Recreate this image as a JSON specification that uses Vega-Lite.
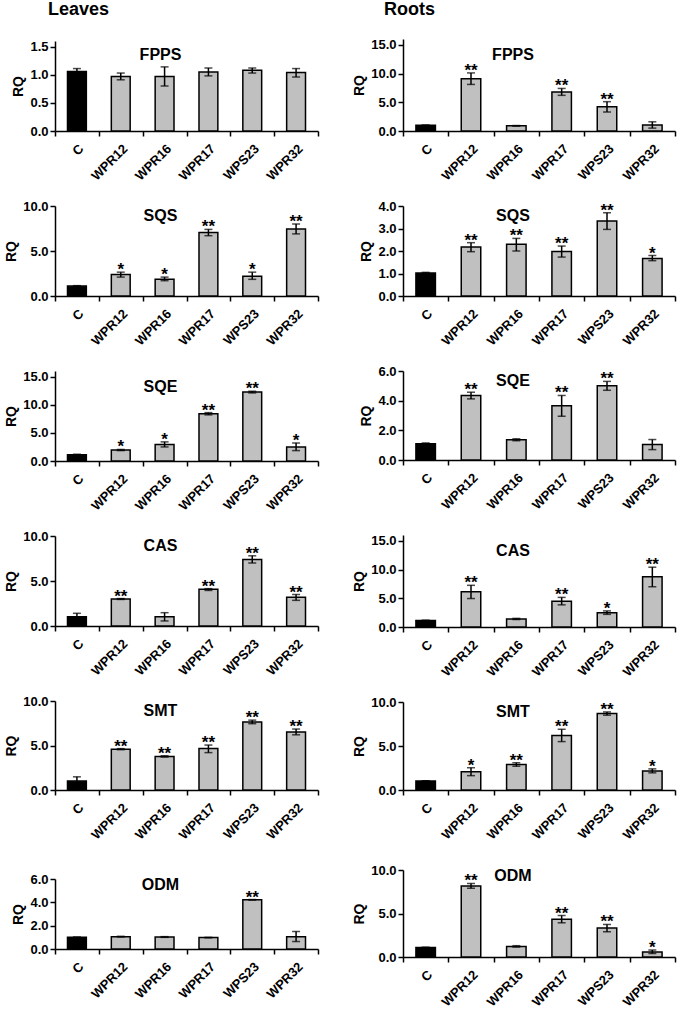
{
"$schema":"https://vega.github.io/schema/vega-lite/v6.json",
"padding":{"left":4,"right":5,"top":0,"bottom":5},
"data":{"values":[
{"t":"L","g":"FPPS","line":"C","rq":1.06,"lo":1.01,"hi":1.11,"sig":""},
{"t":"L","g":"FPPS","line":"WPR12","rq":0.97,"lo":0.91,"hi":1.03,"sig":""},
{"t":"L","g":"FPPS","line":"WPR16","rq":0.97,"lo":0.8,"hi":1.14,"sig":""},
{"t":"L","g":"FPPS","line":"WPR17","rq":1.05,"lo":0.98,"hi":1.12,"sig":""},
{"t":"L","g":"FPPS","line":"WPS23","rq":1.08,"lo":1.03,"hi":1.12,"sig":""},
{"t":"L","g":"FPPS","line":"WPR32","rq":1.04,"lo":0.96,"hi":1.11,"sig":""},
{"t":"R","g":"FPPS","line":"C","rq":1.0,"lo":0.98,"hi":1.02,"sig":""},
{"t":"R","g":"FPPS","line":"WPR12","rq":9.1,"lo":8.1,"hi":10.1,"sig":"**"},
{"t":"R","g":"FPPS","line":"WPR16","rq":0.9,"lo":0.85,"hi":0.95,"sig":""},
{"t":"R","g":"FPPS","line":"WPR17","rq":6.8,"lo":6.2,"hi":7.4,"sig":"**"},
{"t":"R","g":"FPPS","line":"WPS23","rq":4.2,"lo":3.3,"hi":5.1,"sig":"**"},
{"t":"R","g":"FPPS","line":"WPR32","rq":1.05,"lo":0.5,"hi":1.6,"sig":""},
{"t":"L","g":"SQS","line":"C","rq":1.1,"lo":1.05,"hi":1.15,"sig":""},
{"t":"L","g":"SQS","line":"WPR12","rq":2.4,"lo":2.1,"hi":2.65,"sig":"*"},
{"t":"L","g":"SQS","line":"WPR16","rq":1.85,"lo":1.7,"hi":2.1,"sig":"*"},
{"t":"L","g":"SQS","line":"WPR17","rq":7.05,"lo":6.7,"hi":7.4,"sig":"**"},
{"t":"L","g":"SQS","line":"WPS23","rq":2.2,"lo":1.85,"hi":2.65,"sig":"*"},
{"t":"L","g":"SQS","line":"WPR32","rq":7.45,"lo":6.9,"hi":8.0,"sig":"**"},
{"t":"R","g":"SQS","line":"C","rq":1.02,"lo":1.0,"hi":1.05,"sig":""},
{"t":"R","g":"SQS","line":"WPR12","rq":2.18,"lo":1.97,"hi":2.37,"sig":"**"},
{"t":"R","g":"SQS","line":"WPR16","rq":2.3,"lo":2.0,"hi":2.56,"sig":"**"},
{"t":"R","g":"SQS","line":"WPR17","rq":1.98,"lo":1.73,"hi":2.22,"sig":"**"},
{"t":"R","g":"SQS","line":"WPS23","rq":3.33,"lo":2.96,"hi":3.7,"sig":"**"},
{"t":"R","g":"SQS","line":"WPR32","rq":1.67,"lo":1.57,"hi":1.8,"sig":"*"},
{"t":"L","g":"SQE","line":"C","rq":1.1,"lo":1.0,"hi":1.2,"sig":""},
{"t":"L","g":"SQE","line":"WPR12","rq":1.95,"lo":1.85,"hi":2.05,"sig":"*"},
{"t":"L","g":"SQE","line":"WPR16","rq":2.95,"lo":2.5,"hi":3.4,"sig":"*"},
{"t":"L","g":"SQE","line":"WPR17","rq":8.4,"lo":8.2,"hi":8.6,"sig":"**"},
{"t":"L","g":"SQE","line":"WPS23","rq":12.25,"lo":12.1,"hi":12.4,"sig":"**"},
{"t":"L","g":"SQE","line":"WPR32","rq":2.5,"lo":1.85,"hi":3.2,"sig":"*"},
{"t":"R","g":"SQE","line":"C","rq":1.1,"lo":1.05,"hi":1.15,"sig":""},
{"t":"R","g":"SQE","line":"WPR12","rq":4.35,"lo":4.12,"hi":4.57,"sig":"**"},
{"t":"R","g":"SQE","line":"WPR16","rq":1.37,"lo":1.3,"hi":1.43,"sig":""},
{"t":"R","g":"SQE","line":"WPR17","rq":3.65,"lo":2.95,"hi":4.35,"sig":"**"},
{"t":"R","g":"SQE","line":"WPS23","rq":5.0,"lo":4.7,"hi":5.3,"sig":"**"},
{"t":"R","g":"SQE","line":"WPR32","rq":1.05,"lo":0.7,"hi":1.38,"sig":""},
{"t":"L","g":"CAS","line":"C","rq":1.04,"lo":0.67,"hi":1.41,"sig":""},
{"t":"L","g":"CAS","line":"WPR12","rq":3.0,"lo":2.95,"hi":3.05,"sig":"**"},
{"t":"L","g":"CAS","line":"WPR16","rq":1.04,"lo":0.56,"hi":1.48,"sig":""},
{"t":"L","g":"CAS","line":"WPR17","rq":4.07,"lo":3.95,"hi":4.15,"sig":"**"},
{"t":"L","g":"CAS","line":"WPS23","rq":7.4,"lo":7.0,"hi":7.8,"sig":"**"},
{"t":"L","g":"CAS","line":"WPR32","rq":3.2,"lo":2.85,"hi":3.5,"sig":"**"},
{"t":"R","g":"CAS","line":"C","rq":1.14,"lo":1.1,"hi":1.18,"sig":""},
{"t":"R","g":"CAS","line":"WPR12","rq":6.14,"lo":4.95,"hi":7.25,"sig":"**"},
{"t":"R","g":"CAS","line":"WPR16","rq":1.4,"lo":1.3,"hi":1.5,"sig":""},
{"t":"R","g":"CAS","line":"WPR17","rq":4.5,"lo":3.85,"hi":5.15,"sig":"**"},
{"t":"R","g":"CAS","line":"WPS23","rq":2.5,"lo":2.2,"hi":2.8,"sig":"*"},
{"t":"R","g":"CAS","line":"WPR32","rq":8.75,"lo":7.0,"hi":10.4,"sig":"**"},
{"t":"L","g":"SMT","line":"C","rq":1.0,"lo":0.52,"hi":1.48,"sig":""},
{"t":"L","g":"SMT","line":"WPR12","rq":4.59,"lo":4.53,"hi":4.65,"sig":"**"},
{"t":"L","g":"SMT","line":"WPR16","rq":3.77,"lo":3.7,"hi":3.85,"sig":"**"},
{"t":"L","g":"SMT","line":"WPR17","rq":4.66,"lo":4.2,"hi":5.05,"sig":"**"},
{"t":"L","g":"SMT","line":"WPS23","rq":7.65,"lo":7.45,"hi":7.85,"sig":"**"},
{"t":"L","g":"SMT","line":"WPR32","rq":6.53,"lo":6.2,"hi":6.85,"sig":"**"},
{"t":"R","g":"SMT","line":"C","rq":1.02,"lo":1.0,"hi":1.05,"sig":""},
{"t":"R","g":"SMT","line":"WPR12","rq":2.08,"lo":1.63,"hi":2.53,"sig":"*"},
{"t":"R","g":"SMT","line":"WPR16","rq":2.9,"lo":2.7,"hi":3.1,"sig":"**"},
{"t":"R","g":"SMT","line":"WPR17","rq":6.2,"lo":5.5,"hi":6.9,"sig":"**"},
{"t":"R","g":"SMT","line":"WPS23","rq":8.68,"lo":8.5,"hi":8.87,"sig":"**"},
{"t":"R","g":"SMT","line":"WPR32","rq":2.15,"lo":1.95,"hi":2.4,"sig":"*"},
{"t":"L","g":"ODM","line":"C","rq":1.0,"lo":0.97,"hi":1.03,"sig":""},
{"t":"L","g":"ODM","line":"WPR12","rq":1.06,"lo":1.03,"hi":1.09,"sig":""},
{"t":"L","g":"ODM","line":"WPR16","rq":1.03,"lo":1.0,"hi":1.06,"sig":""},
{"t":"L","g":"ODM","line":"WPR17","rq":0.98,"lo":0.96,"hi":1.0,"sig":""},
{"t":"L","g":"ODM","line":"WPS23","rq":4.22,"lo":4.2,"hi":4.24,"sig":"**"},
{"t":"L","g":"ODM","line":"WPR32","rq":1.06,"lo":0.64,"hi":1.5,"sig":""},
{"t":"R","g":"ODM","line":"C","rq":1.1,"lo":1.08,"hi":1.12,"sig":""},
{"t":"R","g":"ODM","line":"WPR12","rq":8.17,"lo":7.9,"hi":8.45,"sig":"**"},
{"t":"R","g":"ODM","line":"WPR16","rq":1.22,"lo":1.14,"hi":1.3,"sig":""},
{"t":"R","g":"ODM","line":"WPR17","rq":4.35,"lo":3.93,"hi":4.77,"sig":"**"},
{"t":"R","g":"ODM","line":"WPS23","rq":3.32,"lo":2.9,"hi":3.74,"sig":"**"},
{"t":"R","g":"ODM","line":"WPR32","rq":0.57,"lo":0.4,"hi":0.8,"sig":"*"}
]},
"spacing":33,
"hconcat":[
{"title":{"text":"Leaves","anchor":"start","fontSize":18,"dx":-7,"dy":0,"offset":6,"baseline":"alphabetic"},
 "bounds":"flush","spacing":75,
 "vconcat":[
  {"title":"FPPS","width":263,"height":92,"transform":[{"filter":"datum.t==='L' && datum.g==='FPPS'"}],
   "encoding":{"x":{"field":"line","type":"nominal","sort":["C","WPR12","WPR16","WPR17","WPS23","WPR32"],"scale":{"paddingInner":0,"paddingOuter":0},"axis":{"title":null}}},
   "layer":[
    {"mark":{"type":"bar","width":{"band":0.43},"stroke":"black","strokeWidth":1.5},"encoding":{"y":{"field":"rq","type":"quantitative","title":"RQ","scale":{"domain":[0,1.5],"range":[92,2]},"axis":{"values":[0,0.5,1,1.5],"format":".1f"}},"color":{"field":"line","type":"nominal","scale":{"domain":["C","WPR12","WPR16","WPR17","WPS23","WPR32"],"range":["#000000","#c0c0c0","#c0c0c0","#c0c0c0","#c0c0c0","#c0c0c0"]},"legend":null}}},
    {"mark":{"type":"errorbar","ticks":true,"size":8,"thickness":1.5,"color":"black"},"encoding":{"y":{"field":"lo","type":"quantitative","title":"RQ","axis":{"values":[0,0.5,1,1.5],"format":".1f"}},"y2":{"field":"hi"}}},
    {"mark":{"type":"text","baseline":"alphabetic","dy":3,"fontSize":17,"fontWeight":"bold"},"encoding":{"y":{"field":"hi","type":"quantitative","title":"RQ","axis":{"values":[0,0.5,1,1.5],"format":".1f"}},"text":{"field":"sig"}}}
   ]},
  {"title":"SQS","width":263,"height":90,"transform":[{"filter":"datum.t==='L' && datum.g==='SQS'"}],
   "encoding":{"x":{"field":"line","type":"nominal","sort":["C","WPR12","WPR16","WPR17","WPS23","WPR32"],"scale":{"paddingInner":0,"paddingOuter":0},"axis":{"title":null}}},
   "layer":[
    {"mark":{"type":"bar","width":{"band":0.43},"stroke":"black","strokeWidth":1.5},"encoding":{"y":{"field":"rq","type":"quantitative","title":"RQ","scale":{"domain":[0,10]},"axis":{"values":[0,5,10],"format":".1f"}},"color":{"field":"line","type":"nominal","scale":{"domain":["C","WPR12","WPR16","WPR17","WPS23","WPR32"],"range":["#000000","#c0c0c0","#c0c0c0","#c0c0c0","#c0c0c0","#c0c0c0"]},"legend":null}}},
    {"mark":{"type":"errorbar","ticks":true,"size":8,"thickness":1.5,"color":"black"},"encoding":{"y":{"field":"lo","type":"quantitative","title":"RQ","axis":{"values":[0,5,10],"format":".1f"}},"y2":{"field":"hi"}}},
    {"mark":{"type":"text","baseline":"alphabetic","dy":3,"fontSize":17,"fontWeight":"bold"},"encoding":{"y":{"field":"hi","type":"quantitative","title":"RQ","axis":{"values":[0,5,10],"format":".1f"}},"text":{"field":"sig"}}}
   ]},
  {"title":"SQE","width":263,"height":90,"transform":[{"filter":"datum.t==='L' && datum.g==='SQE'"}],
   "encoding":{"x":{"field":"line","type":"nominal","sort":["C","WPR12","WPR16","WPR17","WPS23","WPR32"],"scale":{"paddingInner":0,"paddingOuter":0},"axis":{"title":null}}},
   "layer":[
    {"mark":{"type":"bar","width":{"band":0.43},"stroke":"black","strokeWidth":1.5},"encoding":{"y":{"field":"rq","type":"quantitative","title":"RQ","scale":{"domain":[0,15]},"axis":{"values":[0,5,10,15],"format":".1f"}},"color":{"field":"line","type":"nominal","scale":{"domain":["C","WPR12","WPR16","WPR17","WPS23","WPR32"],"range":["#000000","#c0c0c0","#c0c0c0","#c0c0c0","#c0c0c0","#c0c0c0"]},"legend":null}}},
    {"mark":{"type":"errorbar","ticks":true,"size":8,"thickness":1.5,"color":"black"},"encoding":{"y":{"field":"lo","type":"quantitative","title":"RQ","axis":{"values":[0,5,10,15],"format":".1f"}},"y2":{"field":"hi"}}},
    {"mark":{"type":"text","baseline":"alphabetic","dy":3,"fontSize":17,"fontWeight":"bold"},"encoding":{"y":{"field":"hi","type":"quantitative","title":"RQ","axis":{"values":[0,5,10,15],"format":".1f"}},"text":{"field":"sig"}}}
   ]},
  {"title":"CAS","width":263,"height":90,"transform":[{"filter":"datum.t==='L' && datum.g==='CAS'"}],
   "encoding":{"x":{"field":"line","type":"nominal","sort":["C","WPR12","WPR16","WPR17","WPS23","WPR32"],"scale":{"paddingInner":0,"paddingOuter":0},"axis":{"title":null}}},
   "layer":[
    {"mark":{"type":"bar","width":{"band":0.43},"stroke":"black","strokeWidth":1.5},"encoding":{"y":{"field":"rq","type":"quantitative","title":"RQ","scale":{"domain":[0,10]},"axis":{"values":[0,5,10],"format":".1f"}},"color":{"field":"line","type":"nominal","scale":{"domain":["C","WPR12","WPR16","WPR17","WPS23","WPR32"],"range":["#000000","#c0c0c0","#c0c0c0","#c0c0c0","#c0c0c0","#c0c0c0"]},"legend":null}}},
    {"mark":{"type":"errorbar","ticks":true,"size":8,"thickness":1.5,"color":"black"},"encoding":{"y":{"field":"lo","type":"quantitative","title":"RQ","axis":{"values":[0,5,10],"format":".1f"}},"y2":{"field":"hi"}}},
    {"mark":{"type":"text","baseline":"alphabetic","dy":3,"fontSize":17,"fontWeight":"bold"},"encoding":{"y":{"field":"hi","type":"quantitative","title":"RQ","axis":{"values":[0,5,10],"format":".1f"}},"text":{"field":"sig"}}}
   ]},
  {"title":"SMT","width":263,"height":89,"transform":[{"filter":"datum.t==='L' && datum.g==='SMT'"}],
   "encoding":{"x":{"field":"line","type":"nominal","sort":["C","WPR12","WPR16","WPR17","WPS23","WPR32"],"scale":{"paddingInner":0,"paddingOuter":0},"axis":{"title":null}}},
   "layer":[
    {"mark":{"type":"bar","width":{"band":0.43},"stroke":"black","strokeWidth":1.5},"encoding":{"y":{"field":"rq","type":"quantitative","title":"RQ","scale":{"domain":[0,10]},"axis":{"values":[0,5,10],"format":".1f"}},"color":{"field":"line","type":"nominal","scale":{"domain":["C","WPR12","WPR16","WPR17","WPS23","WPR32"],"range":["#000000","#c0c0c0","#c0c0c0","#c0c0c0","#c0c0c0","#c0c0c0"]},"legend":null}}},
    {"mark":{"type":"errorbar","ticks":true,"size":8,"thickness":1.5,"color":"black"},"encoding":{"y":{"field":"lo","type":"quantitative","title":"RQ","axis":{"values":[0,5,10],"format":".1f"}},"y2":{"field":"hi"}}},
    {"mark":{"type":"text","baseline":"alphabetic","dy":3,"fontSize":17,"fontWeight":"bold"},"encoding":{"y":{"field":"hi","type":"quantitative","title":"RQ","axis":{"values":[0,5,10],"format":".1f"}},"text":{"field":"sig"}}}
   ]},
  {"title":{"text":"ODM","dy":32},"width":263,"height":84,"transform":[{"filter":"datum.t==='L' && datum.g==='ODM'"}],
   "encoding":{"x":{"field":"line","type":"nominal","sort":["C","WPR12","WPR16","WPR17","WPS23","WPR32"],"scale":{"paddingInner":0,"paddingOuter":0},"axis":{"title":null}}},
   "layer":[
    {"mark":{"type":"bar","width":{"band":0.43},"stroke":"black","strokeWidth":1.5},"encoding":{"y":{"field":"rq","type":"quantitative","title":"RQ","scale":{"domain":[0,6],"range":[84,14]},"axis":{"values":[0,2,4,6],"format":".1f"}},"color":{"field":"line","type":"nominal","scale":{"domain":["C","WPR12","WPR16","WPR17","WPS23","WPR32"],"range":["#000000","#c0c0c0","#c0c0c0","#c0c0c0","#c0c0c0","#c0c0c0"]},"legend":null}}},
    {"mark":{"type":"errorbar","ticks":true,"size":8,"thickness":1.5,"color":"black"},"encoding":{"y":{"field":"lo","type":"quantitative","title":"RQ","axis":{"values":[0,2,4,6],"format":".1f"}},"y2":{"field":"hi"}}},
    {"mark":{"type":"text","baseline":"alphabetic","dy":3,"fontSize":17,"fontWeight":"bold"},"encoding":{"y":{"field":"hi","type":"quantitative","title":"RQ","axis":{"values":[0,2,4,6],"format":".1f"}},"text":{"field":"sig"}}}
   ]}
 ]},
{"title":{"text":"Roots","anchor":"start","fontSize":18,"dx":-19,"dy":0,"offset":6,"baseline":"alphabetic"},
 "bounds":"flush","spacing":75,
 "vconcat":[
  {"title":"FPPS","width":272,"height":92,"transform":[{"filter":"datum.t==='R' && datum.g==='FPPS'"}],
   "encoding":{"x":{"field":"line","type":"nominal","sort":["C","WPR12","WPR16","WPR17","WPS23","WPR32"],"scale":{"paddingInner":0,"paddingOuter":0},"axis":{"title":null}}},
   "layer":[
    {"mark":{"type":"bar","width":{"band":0.43},"stroke":"black","strokeWidth":1.5},"encoding":{"y":{"field":"rq","type":"quantitative","title":"RQ","scale":{"domain":[0,15]},"axis":{"values":[0,5,10,15],"format":".1f"}},"color":{"field":"line","type":"nominal","scale":{"domain":["C","WPR12","WPR16","WPR17","WPS23","WPR32"],"range":["#000000","#c0c0c0","#c0c0c0","#c0c0c0","#c0c0c0","#c0c0c0"]},"legend":null}}},
    {"mark":{"type":"errorbar","ticks":true,"size":8,"thickness":1.5,"color":"black"},"encoding":{"y":{"field":"lo","type":"quantitative","title":"RQ","axis":{"values":[0,5,10,15],"format":".1f"}},"y2":{"field":"hi"}}},
    {"mark":{"type":"text","baseline":"alphabetic","dy":3,"fontSize":17,"fontWeight":"bold"},"encoding":{"y":{"field":"hi","type":"quantitative","title":"RQ","axis":{"values":[0,5,10,15],"format":".1f"}},"text":{"field":"sig"}}}
   ]},
  {"title":"SQS","width":272,"height":90,"transform":[{"filter":"datum.t==='R' && datum.g==='SQS'"}],
   "encoding":{"x":{"field":"line","type":"nominal","sort":["C","WPR12","WPR16","WPR17","WPS23","WPR32"],"scale":{"paddingInner":0,"paddingOuter":0},"axis":{"title":null}}},
   "layer":[
    {"mark":{"type":"bar","width":{"band":0.43},"stroke":"black","strokeWidth":1.5},"encoding":{"y":{"field":"rq","type":"quantitative","title":"RQ","scale":{"domain":[0,4]},"axis":{"values":[0,1,2,3,4],"format":".1f"}},"color":{"field":"line","type":"nominal","scale":{"domain":["C","WPR12","WPR16","WPR17","WPS23","WPR32"],"range":["#000000","#c0c0c0","#c0c0c0","#c0c0c0","#c0c0c0","#c0c0c0"]},"legend":null}}},
    {"mark":{"type":"errorbar","ticks":true,"size":8,"thickness":1.5,"color":"black"},"encoding":{"y":{"field":"lo","type":"quantitative","title":"RQ","axis":{"values":[0,1,2,3,4],"format":".1f"}},"y2":{"field":"hi"}}},
    {"mark":{"type":"text","baseline":"alphabetic","dy":3,"fontSize":17,"fontWeight":"bold"},"encoding":{"y":{"field":"hi","type":"quantitative","title":"RQ","axis":{"values":[0,1,2,3,4],"format":".1f"}},"text":{"field":"sig"}}}
   ]},
  {"title":"SQE","width":272,"height":89,"transform":[{"filter":"datum.t==='R' && datum.g==='SQE'"}],
   "encoding":{"x":{"field":"line","type":"nominal","sort":["C","WPR12","WPR16","WPR17","WPS23","WPR32"],"scale":{"paddingInner":0,"paddingOuter":0},"axis":{"title":null}}},
   "layer":[
    {"mark":{"type":"bar","width":{"band":0.43},"stroke":"black","strokeWidth":1.5},"encoding":{"y":{"field":"rq","type":"quantitative","title":"RQ","scale":{"domain":[0,6]},"axis":{"values":[0,2,4,6],"format":".1f"}},"color":{"field":"line","type":"nominal","scale":{"domain":["C","WPR12","WPR16","WPR17","WPS23","WPR32"],"range":["#000000","#c0c0c0","#c0c0c0","#c0c0c0","#c0c0c0","#c0c0c0"]},"legend":null}}},
    {"mark":{"type":"errorbar","ticks":true,"size":8,"thickness":1.5,"color":"black"},"encoding":{"y":{"field":"lo","type":"quantitative","title":"RQ","axis":{"values":[0,2,4,6],"format":".1f"}},"y2":{"field":"hi"}}},
    {"mark":{"type":"text","baseline":"alphabetic","dy":3,"fontSize":17,"fontWeight":"bold"},"encoding":{"y":{"field":"hi","type":"quantitative","title":"RQ","axis":{"values":[0,2,4,6],"format":".1f"}},"text":{"field":"sig"}}}
   ]},
  {"title":"CAS","width":272,"height":92,"transform":[{"filter":"datum.t==='R' && datum.g==='CAS'"}],
   "encoding":{"x":{"field":"line","type":"nominal","sort":["C","WPR12","WPR16","WPR17","WPS23","WPR32"],"scale":{"paddingInner":0,"paddingOuter":0},"axis":{"title":null}}},
   "layer":[
    {"mark":{"type":"bar","width":{"band":0.43},"stroke":"black","strokeWidth":1.5},"encoding":{"y":{"field":"rq","type":"quantitative","title":"RQ","scale":{"domain":[0,15]},"axis":{"values":[0,5,10,15],"format":".1f"}},"color":{"field":"line","type":"nominal","scale":{"domain":["C","WPR12","WPR16","WPR17","WPS23","WPR32"],"range":["#000000","#c0c0c0","#c0c0c0","#c0c0c0","#c0c0c0","#c0c0c0"]},"legend":null}}},
    {"mark":{"type":"errorbar","ticks":true,"size":8,"thickness":1.5,"color":"black"},"encoding":{"y":{"field":"lo","type":"quantitative","title":"RQ","axis":{"values":[0,5,10,15],"format":".1f"}},"y2":{"field":"hi"}}},
    {"mark":{"type":"text","baseline":"alphabetic","dy":3,"fontSize":17,"fontWeight":"bold"},"encoding":{"y":{"field":"hi","type":"quantitative","title":"RQ","axis":{"values":[0,5,10,15],"format":".1f"}},"text":{"field":"sig"}}}
   ]},
  {"title":"SMT","width":272,"height":88,"transform":[{"filter":"datum.t==='R' && datum.g==='SMT'"}],
   "encoding":{"x":{"field":"line","type":"nominal","sort":["C","WPR12","WPR16","WPR17","WPS23","WPR32"],"scale":{"paddingInner":0,"paddingOuter":0},"axis":{"title":null}}},
   "layer":[
    {"mark":{"type":"bar","width":{"band":0.43},"stroke":"black","strokeWidth":1.5},"encoding":{"y":{"field":"rq","type":"quantitative","title":"RQ","scale":{"domain":[0,10]},"axis":{"values":[0,5,10],"format":".1f"}},"color":{"field":"line","type":"nominal","scale":{"domain":["C","WPR12","WPR16","WPR17","WPS23","WPR32"],"range":["#000000","#c0c0c0","#c0c0c0","#c0c0c0","#c0c0c0","#c0c0c0"]},"legend":null}}},
    {"mark":{"type":"errorbar","ticks":true,"size":8,"thickness":1.5,"color":"black"},"encoding":{"y":{"field":"lo","type":"quantitative","title":"RQ","axis":{"values":[0,5,10],"format":".1f"}},"y2":{"field":"hi"}}},
    {"mark":{"type":"text","baseline":"alphabetic","dy":3,"fontSize":17,"fontWeight":"bold"},"encoding":{"y":{"field":"hi","type":"quantitative","title":"RQ","axis":{"values":[0,5,10],"format":".1f"}},"text":{"field":"sig"}}}
   ]},
  {"title":{"text":"ODM","dy":24},"width":272,"height":92,"transform":[{"filter":"datum.t==='R' && datum.g==='ODM'"}],
   "encoding":{"x":{"field":"line","type":"nominal","sort":["C","WPR12","WPR16","WPR17","WPS23","WPR32"],"scale":{"paddingInner":0,"paddingOuter":0},"axis":{"title":null}}},
   "layer":[
    {"mark":{"type":"bar","width":{"band":0.43},"stroke":"black","strokeWidth":1.5},"encoding":{"y":{"field":"rq","type":"quantitative","title":"RQ","scale":{"domain":[0,10],"range":[92,5]},"axis":{"values":[0,5,10],"format":".1f"}},"color":{"field":"line","type":"nominal","scale":{"domain":["C","WPR12","WPR16","WPR17","WPS23","WPR32"],"range":["#000000","#c0c0c0","#c0c0c0","#c0c0c0","#c0c0c0","#c0c0c0"]},"legend":null}}},
    {"mark":{"type":"errorbar","ticks":true,"size":8,"thickness":1.5,"color":"black"},"encoding":{"y":{"field":"lo","type":"quantitative","title":"RQ","axis":{"values":[0,5,10],"format":".1f"}},"y2":{"field":"hi"}}},
    {"mark":{"type":"text","baseline":"alphabetic","dy":3,"fontSize":17,"fontWeight":"bold"},"encoding":{"y":{"field":"hi","type":"quantitative","title":"RQ","axis":{"values":[0,5,10],"format":".1f"}},"text":{"field":"sig"}}}
   ]}
 ]}
],
"config":{
 "view":{"stroke":null},
 "font":"Liberation Sans",
 "background":"white",
 "title":{"font":"Liberation Sans","fontSize":16,"fontWeight":"bold","color":"black","anchor":"middle","frame":"group","offset":0,"dy":28,"dx":-26,"baseline":"alphabetic"},
 "axis":{"labelFont":"Liberation Sans","labelFontWeight":"bold","labelFontSize":13,"labelColor":"black","titleFont":"Liberation Sans","titleFontSize":14,"titleFontWeight":"bold","titleColor":"black","domainColor":"black","domainWidth":1.5,"tickColor":"black","tickWidth":1.5,"tickSize":5,"grid":false,"labelOverlap":false},
 "axisX":{"labelAngle":-45,"tickBand":"extent","labelPadding":6},
 "axisY":{"titlePadding":4}
}
}
